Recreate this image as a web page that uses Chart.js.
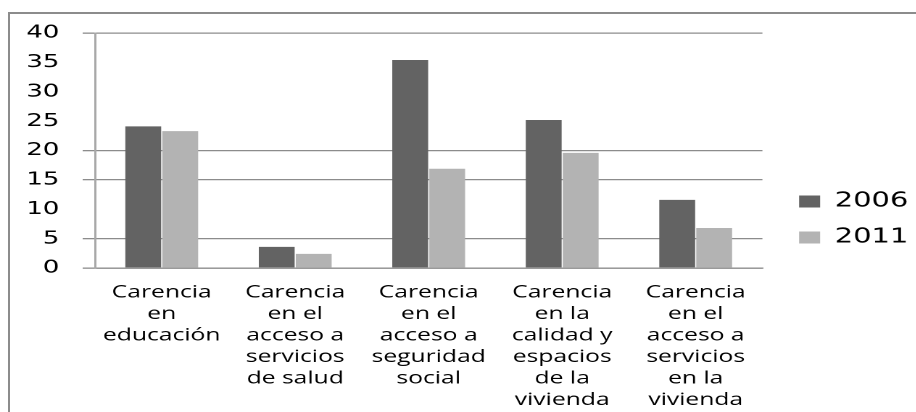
<!DOCTYPE html>
<html>
<head>
<meta charset="utf-8">
<script src="https://cdn.jsdelivr.net/npm/chart.js@4.4.1/dist/chart.umd.min.js"></script>
<style>
  html, body { margin: 0; padding: 0; background: #fff; }
  #wrap { position: relative; width: 916px; height: 412px; overflow: hidden; }
  #frame {
    position: absolute; left: 8px; top: 12px; width: 1000px; height: 600px;
    border: 2px solid #8c8c8c;
  }
  #chart {
    position: absolute; left: 0; top: 0;
    transform: scaleX(1.45); transform-origin: 0 0;
  }
</style>
</head>
<body>
<div id="wrap">
  <div id="frame"></div>
  <canvas id="chart" width="632" height="412"></canvas>
</div>
<script>
// data
const categories = [
  ['Carencia', 'en', 'educación'],
  ['Carencia', 'en el', 'acceso a', 'servicios', 'de salud'],
  ['Carencia', 'en el', 'acceso a', 'seguridad', 'social'],
  ['Carencia', 'en la', 'calidad y', 'espacios', 'de la', 'vivienda'],
  ['Carencia', 'en el', 'acceso a', 'servicios', 'en la', 'vivienda']
];
const years = ['2006', '2011'];
const values2006 = [24.1, 3.6, 35.4, 25.2, 11.6];
const values2011 = [23.3, 2.4, 16.9, 19.6, 6.8];
const yMax = 40;
const yStep = 5;

// push the legend a bit further from the plot
const legendShift = {
  id: 'legendShift',
  afterLayout(chart) {
    chart.legend.left += 9.3;
    chart.legend.right += 9.3;
  }
};

const ctx = document.getElementById('chart');
new Chart(ctx, {
  type: 'bar',
  data: {
    labels: categories,
    datasets: [
      { label: years[0], data: values2006, backgroundColor: '#636363' },
      { label: years[1], data: values2011, backgroundColor: '#b3b3b3' }
    ]
  },
  options: {
    responsive: false,
    animation: false,
    devicePixelRatio: 2,
    layout: { padding: { left: 16, top: 33, bottom: 6, right: 4.8 } },
    datasets: { bar: { categoryPercentage: 0.554, barPercentage: 0.97 } },
    plugins: {
      tooltip: { enabled: false },
      legend: {
        position: 'right',
        labels: {
          boxWidth: 14.5,
          boxHeight: 12,
          padding: 16,
          color: '#000',
          font: { family: 'DejaVu Sans', size: 20 }
        }
      }
    },
    scales: {
      x: {
        afterFit: s => { s.height = 138; },
        grid: { display: false, drawTicks: false },
        border: { display: true, color: '#8c8c8c', width: 1.3 },
        ticks: {
          padding: 14,
          maxRotation: 0,
          autoSkip: false,
          color: '#000',
          font: { family: 'Open Sans', size: 17, lineHeight: 1.265 }
        }
      },
      y: {
        min: 0,
        max: yMax,
        afterFit: s => { s.width = 49.5; },
        ticks: {
          stepSize: yStep,
          padding: 16,
          color: '#000',
          font: { family: 'DejaVu Sans', size: 18 }
        },
        grid: {
          // the reference only shows some of the lines
          color: c => [0, 5, 15, 20, 40].includes(c.tick && c.tick.value) ? '#8c8c8c' : 'rgba(0,0,0,0)',
          lineWidth: 1.3,
          tickLength: 8.5
        },
        border: { display: true, color: '#a8a8a8', width: 1.5 }
      }
    }
  },
  plugins: [legendShift]
});
</script>
</body>
</html>
